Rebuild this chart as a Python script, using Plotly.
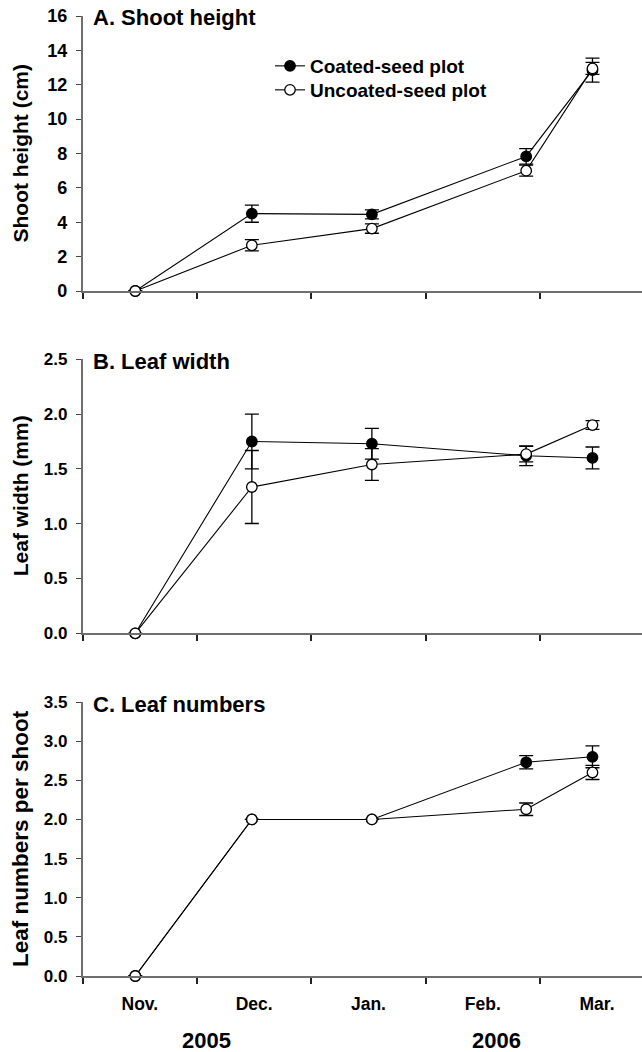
import plotly.graph_objects as go

# Sampling times expressed in months since 1 Nov 2005 (Nov..Mar)
sample_month = [0.46, 1.48, 2.53, 3.88, 4.46]
month_labels = ["Nov.", "Dec.", "Jan.", "Feb.", "Mar."]
month_centers = [0.5, 1.5, 2.5, 3.5, 4.5]
month_bounds = [0, 1, 2, 3, 4]

# A. Shoot height (cm)
height_coated = [0.0, 4.50, 4.46, 7.83, 12.85]
height_coated_se = [0.0, 0.50, 0.26, 0.45, 0.70]
height_uncoated = [0.0, 2.66, 3.63, 7.00, 12.95]
height_uncoated_se = [0.0, 0.33, 0.27, 0.32, 0.35]

# B. Leaf width (mm)
width_coated = [0.0, 1.75, 1.73, 1.62, 1.60]
width_coated_se = [0.0, 0.25, 0.14, 0.09, 0.10]
width_uncoated = [0.0, 1.335, 1.54, 1.635, 1.90]
width_uncoated_se = [0.0, 0.333, 0.145, 0.07, 0.04]

# C. Leaf numbers per shoot
leaves_coated = [0.0, 2.0, 2.0, 2.73, 2.80]
leaves_coated_se = [0.0, 0.0, 0.0, 0.085, 0.14]
leaves_uncoated = [0.0, 2.0, 2.0, 2.13, 2.60]
leaves_uncoated_se = [0.0, 0.0, 0.0, 0.08, 0.09]

series_names = ["Coated-seed plot", "Uncoated-seed plot"]
panel_titles = ["A. Shoot height", "B. Leaf width", "C. Leaf numbers"]
y_titles = ["Shoot height (cm)", "Leaf width (mm)", "Leaf numbers per shoot"]
year_labels = ["2005", "2006"]

W, H = 642, 1052
FONT = "Liberation Sans, Arial, sans-serif"

def py(px):
    return 1 - px / H

def pxx(px):
    return px / W

x0_px = 82.7
month_px = 114.3
x_max = (W - x0_px) / month_px

panels = [
    dict(top=16.0, bot=291.0, rng=[0, 16], dtick=2, fmt="d", tfs=18, yts=21,
         data=[(height_coated, height_coated_se), (height_uncoated, height_uncoated_se)]),
    dict(top=359.3, bot=633.3, rng=[0, 2.5], dtick=0.5, fmt=".1f", tfs=17, yts=21,
         data=[(width_coated, width_coated_se), (width_uncoated, width_uncoated_se)]),
    dict(top=702.0, bot=976.0, rng=[0, 3.5], dtick=0.5, fmt=".1f", tfs=17, yts=22.5,
         data=[(leaves_coated, leaves_coated_se), (leaves_uncoated, leaves_uncoated_se)]),
]

fig = go.Figure()
marker_fill = ["black", "white"]
legend_ids = ["legend", "legend2"]
for i, p in enumerate(panels):
    xa = "x" if i == 0 else f"x{i+1}"
    ya = "y" if i == 0 else f"y{i+1}"
    for j, (vals, se) in enumerate(p["data"]):
        fig.add_trace(go.Scatter(
            x=sample_month, y=vals, xaxis=xa, yaxis=ya,
            mode="lines+markers", name=series_names[j],
            showlegend=(i == 0), legend=legend_ids[j], cliponaxis=False,
            line=dict(color="black", width=1.1),
            marker=dict(size=10.5, color=marker_fill[j],
                        line=dict(color="black", width=1.3)),
            error_y=dict(type="data", array=se, visible=True,
                         color="black", thickness=1.3, width=7),
        ))

leg_common = dict(xanchor="left", yanchor="middle", bgcolor="rgba(0,0,0,0)",
                  font=dict(size=19, family=FONT, weight="bold"))
layout = dict(
    width=W, height=H,
    margin=dict(l=0, r=0, t=0, b=0, pad=0, autoexpand=False),
    paper_bgcolor="white", plot_bgcolor="white",
    font=dict(family=FONT, color="black", weight="bold"),
    legend=dict(x=pxx(270), y=py(66), **leg_common),
    legend2=dict(x=pxx(270), y=py(90), **leg_common),
    showlegend=True,
)

annotations = []
for i, p in enumerate(panels):
    xk = "xaxis" if i == 0 else f"xaxis{i+1}"
    yk = "yaxis" if i == 0 else f"yaxis{i+1}"
    ya_anchor = "y" if i == 0 else f"y{i+1}"
    xa_anchor = "x" if i == 0 else f"x{i+1}"
    last = (i == 2)
    layout[xk] = dict(
        domain=[pxx(x0_px), 1.0], range=[0, x_max], anchor=ya_anchor,
        automargin=False,
        showgrid=False, zeroline=False, showline=True,
        linecolor="#6f6f6f", linewidth=1.6,
        tickmode="array", tickvals=month_centers,
        ticktext=month_labels if last else [""] * 5,
        ticks="", showticklabels=last, ticklabelstandoff=11,
        tickfont=dict(size=17.5, family=FONT, weight="bold"),
        minor=dict(tickmode="array", tickvals=month_bounds, ticks="outside",
                   ticklen=6, tickwidth=1.5, tickcolor="#222", showgrid=False),
        fixedrange=True,
    )
    layout[yk] = dict(
        domain=[py(p["bot"]), py(p["top"])], range=p["rng"], anchor=xa_anchor,
        automargin=False,
        showgrid=False, zeroline=False, showline=True,
        linecolor="#6f6f6f", linewidth=1.6,
        tickmode="linear", tick0=0, dtick=p["dtick"], tickformat=p["fmt"],
        ticks="outside", ticklen=5, tickwidth=1.3, tickcolor="#444",
        ticklabelstandoff=5,
        tickfont=dict(size=p["tfs"], family=FONT, weight="bold"),
        fixedrange=True,
    )
    annotations.append(dict(
        text=panel_titles[i], xref="paper", yref="paper",
        x=pxx(91), y=py(p["top"] + 2), xanchor="left", yanchor="middle",
        showarrow=False, font=dict(size=22, family=FONT, weight="bold"),
    ))
    annotations.append(dict(
        text=y_titles[i], xref="paper", yref="paper", textangle=-90,
        x=pxx(20), y=py((p["top"] + p["bot"]) / 2), xanchor="center",
        yanchor="middle", showarrow=False,
        font=dict(size=p["yts"], family=FONT, weight="bold"),
    ))

year_px = [206, 496]
for k, lab in enumerate(year_labels):
    annotations.append(dict(
        text=lab, xref="paper", yref="paper", x=pxx(year_px[k]), y=py(1040),
        xanchor="center", yanchor="middle", showarrow=False,
        font=dict(size=22, family=FONT, weight="bold"),
    ))

layout["annotations"] = annotations
fig.update_layout(**layout)
fig.write_html(
    "out.html",
    config={"displayModeBar": False},
    post_script="document.body.style.margin='0';document.body.style.overflow='hidden';",
)
